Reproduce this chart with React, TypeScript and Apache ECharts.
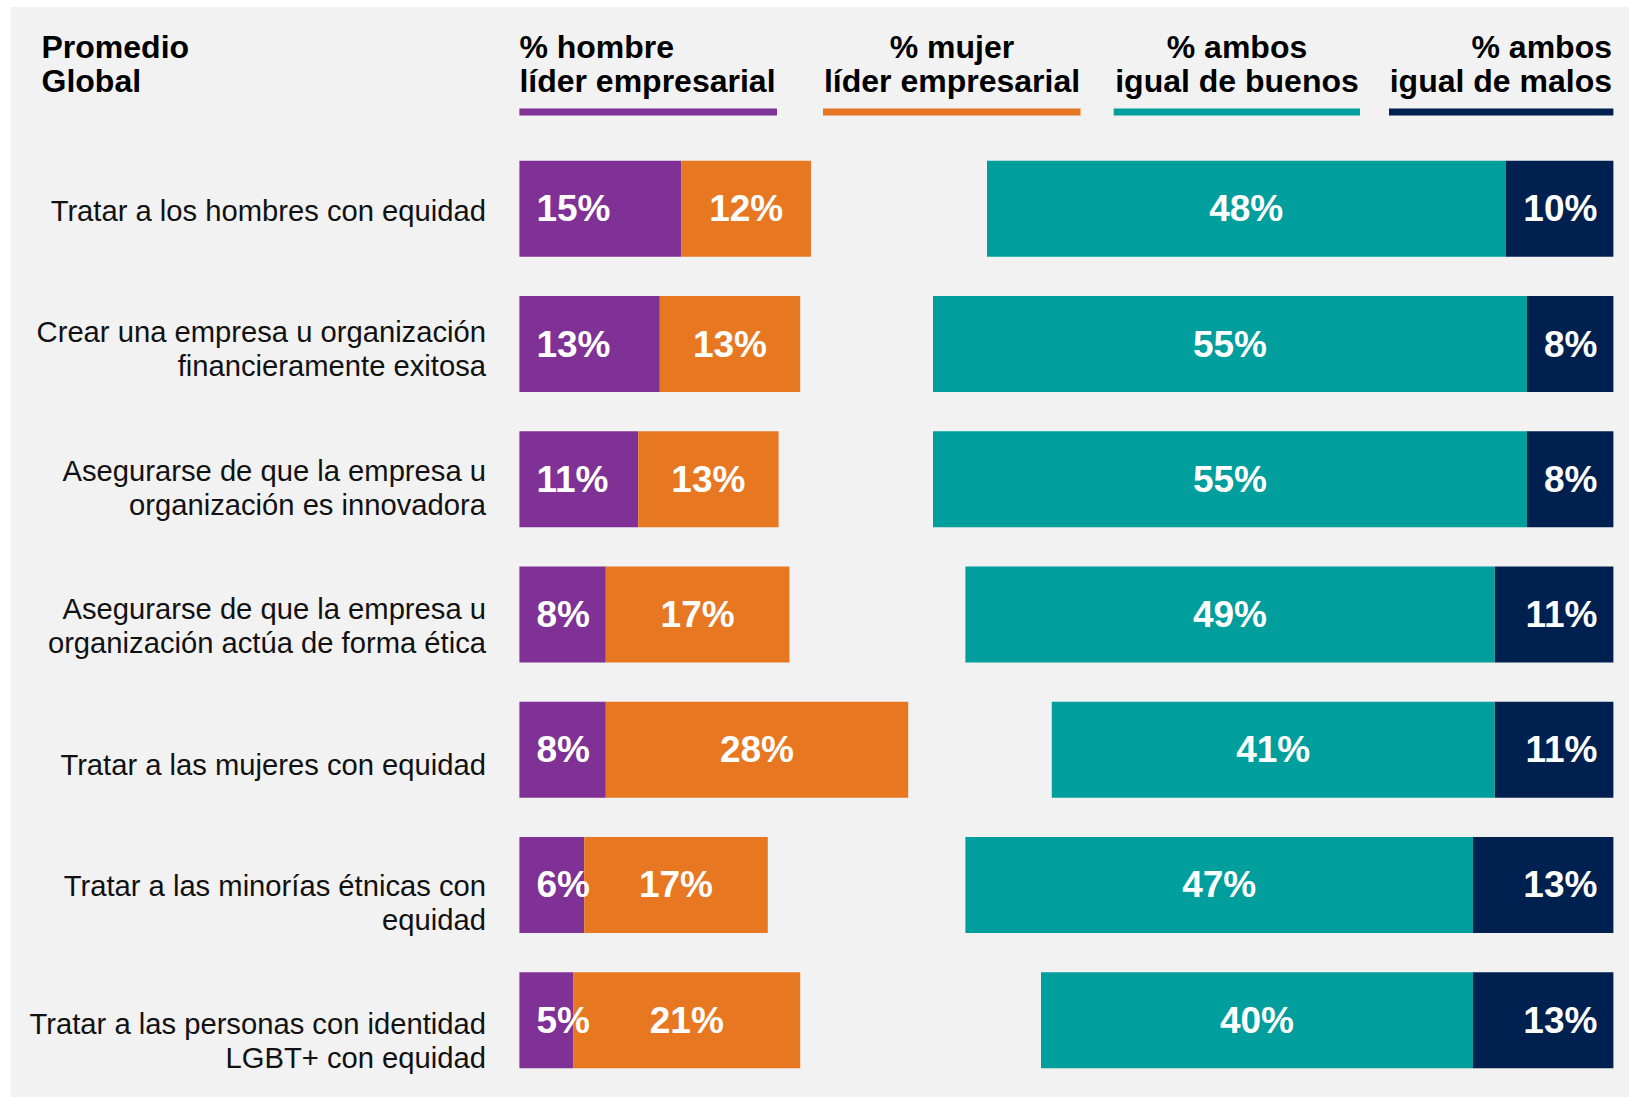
import React, { useEffect, useRef } from "react";
import * as echarts from "echarts";

const categories = [
  "Tratar a los hombres con equidad",
  "Crear una empresa u organización\nfinancieramente exitosa",
  "Asegurarse de que la empresa u\norganización es innovadora",
  "Asegurarse de que la empresa u\norganización actúa de forma ética",
  "Tratar a las mujeres con equidad",
  "Tratar a las minorías étnicas con\nequidad",
  "Tratar a las personas con identidad\nLGBT+ con equidad",
];
const hombre = [15, 13, 11, 8, 8, 6, 5];
const mujer = [12, 13, 13, 17, 28, 17, 21];
const buenos = [48, 55, 55, 49, 41, 47, 40];
const malos = [10, 8, 8, 11, 11, 13, 13];

const titleText = "Promedio\nGlobal";
const headers = [
  "% hombre\nlíder empresarial",
  "% mujer\nlíder empresarial",
  "% ambos\nigual de buenos",
  "% ambos\nigual de malos",
];

const PURPLE = "#7F3196";
const ORANGE = "#E87722";
const TEAL = "#009E9C";
const NAVY = "#00214F";
const BG = "#F2F2F2";
const FONT = "'Liberation Sans', Arial, Helvetica, sans-serif";

export default function App() {
  const ref = useRef<HTMLDivElement>(null);
  useEffect(() => {
    document.body.style.margin = "0";
    if (!ref.current) return;
    const chart = echarts.init(ref.current, undefined, { renderer: "svg" });

    const W = 1629;
    const leftStart = 519.4;
    const rightEnd = 1613.4;
    const pxPer = 10.8;
    const leftMax = 60;
    const rightMax = 70;

    const headerStyle = {
      fontSize: 32,
      fontWeight: "bold",
      fontFamily: FONT,
      fill: "#000",
      lineHeight: 34,
      verticalAlign: "top",
    };

    const underlines = [
      { x1: 519.4, x2: 777, c: PURPLE },
      { x1: 823, x2: 1080.5, c: ORANGE },
      { x1: 1113.7, x2: 1360, c: TEAL },
      { x1: 1389, x2: 1613.4, c: NAVY },
    ];
    const headerPos = [
      { x: 519.4, align: "left" },
      { x: 952, align: "center" },
      { x: 1237, align: "center" },
      { x: 1612, align: "right" },
    ];

    const labelCommon = {
      show: true,
      color: "#fff",
      fontSize: 37,
      fontWeight: "bold",
      fontFamily: FONT,
      formatter: "{c}%",
    };

    chart.setOption({
      animation: false,
      backgroundColor: "#fff",
      graphic: [
        {
          type: "rect",
          z: -10,
          shape: { x: 10.5, y: 7, width: W, height: 1100 },
          style: { fill: BG },
          silent: true,
        },
        {
          type: "text",
          x: 41.5,
          y: 30,
          style: { ...headerStyle, text: titleText, align: "left" },
        },
        ...headers.map((h, i) => ({
          type: "text",
          x: headerPos[i].x,
          y: 30,
          style: { ...headerStyle, text: h, align: headerPos[i].align },
        })),
        ...underlines.map((u) => ({
          type: "rect",
          shape: { x: u.x1, y: 108.5, width: u.x2 - u.x1, height: 7 },
          style: { fill: u.c },
        })),
      ],
      grid: [
        { left: leftStart, top: 141.2, height: 946.6, width: leftMax * pxPer },
        { left: rightEnd - rightMax * pxPer, top: 141.2, height: 946.6, width: rightMax * pxPer },
        { left: 500, top: 210.9, height: 830.5, width: 10 },
      ],
      xAxis: [
        { gridIndex: 0, type: "value", min: 0, max: leftMax, show: false },
        { gridIndex: 1, type: "value", min: 0, max: rightMax, inverse: true, show: false },
        { gridIndex: 2, type: "value", min: 0, max: 1, show: false },
      ],
      yAxis: [
        { gridIndex: 0, type: "category", data: categories, inverse: true, show: false },
        { gridIndex: 1, type: "category", data: categories, inverse: true, show: false },
        {
          gridIndex: 2,
          type: "category",
          data: categories,
          inverse: true,
          boundaryGap: false,
          axisLine: { show: false },
          axisTick: { show: false },
          splitLine: { show: false },
          axisLabel: {
            show: true,
            margin: 14,
            color: "#111",
            fontSize: 29.2,
            fontFamily: FONT,
            lineHeight: 34,
            align: "right",
            interval: 0,
          },
        },
      ],
      series: [
        {
          name: "% hombre líder empresarial",
          type: "bar",
          xAxisIndex: 0,
          yAxisIndex: 0,
          stack: "L",
          barWidth: 96,
          data: hombre,
          itemStyle: { color: PURPLE },
          label: { ...labelCommon, position: "insideLeft", distance: 17 },
        },
        {
          name: "% mujer líder empresarial",
          type: "bar",
          xAxisIndex: 0,
          yAxisIndex: 0,
          stack: "L",
          barWidth: 96,
          data: mujer,
          itemStyle: { color: ORANGE },
          label: { ...labelCommon, position: "inside" },
        },
        {
          name: "% ambos igual de malos",
          type: "bar",
          xAxisIndex: 1,
          yAxisIndex: 1,
          stack: "R",
          barWidth: 96,
          data: malos,
          itemStyle: { color: NAVY },
          label: { ...labelCommon, position: "insideRight", distance: 16 },
        },
        {
          name: "% ambos igual de buenos",
          type: "bar",
          xAxisIndex: 1,
          yAxisIndex: 1,
          stack: "R",
          barWidth: 96,
          data: buenos,
          itemStyle: { color: TEAL },
          label: { ...labelCommon, position: "inside" },
        },
      ],
    });
    return () => chart.dispose();
  }, []);
  return <div ref={ref} style={{ width: 1629, height: 1097 }} />;
}
